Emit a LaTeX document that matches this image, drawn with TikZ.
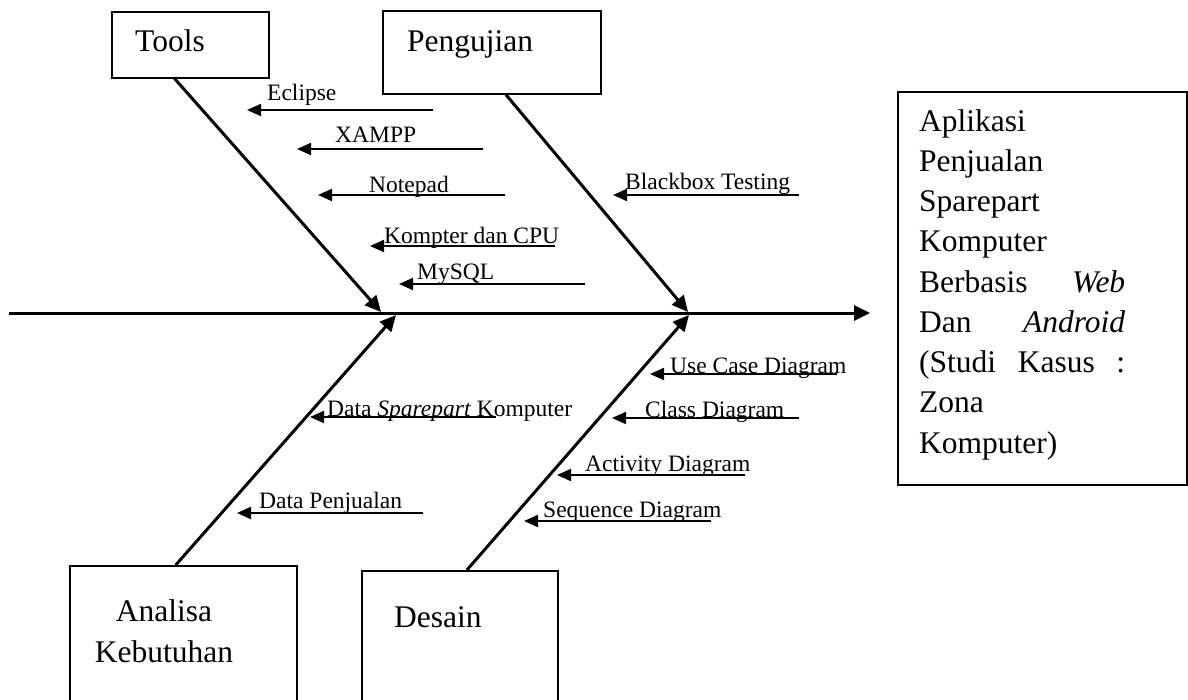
\documentclass[tikz,border=0pt]{standalone}
\usepackage{fontspec}
\setmainfont{Liberation Serif}
\usetikzlibrary{arrows.meta,calc}
\begin{document}
\begin{tikzpicture}[x=1pt,y=-1pt,
  box/.style={draw, line width=1.6pt, inner sep=0pt, anchor=north west},
  big/.style={font=\fontsize{31.5}{40.25}\selectfont, inner sep=0pt},
  lbl/.style={font=\fontsize{23.5}{28}\selectfont, inner sep=0pt, anchor=base west},
  bone/.style={line width=3pt, -{Triangle[length=16pt,width=15pt]}},
  sub/.style={line width=2pt, -{Triangle[length=14pt,width=12pt]}}]
\useasboundingbox (0,0) rectangle (1188,699);
\clip (0,0) rectangle (1188,699);
% boxes
\node[box, minimum width=157pt, minimum height=66pt] (tools) at (111,11) {};
\node[box, minimum width=218pt, minimum height=83pt] (uji) at (382,10) {};
\node[box, minimum width=227pt, minimum height=160pt] (ana) at (69,565) {};
\node[box, minimum width=196pt, minimum height=160pt] (des) at (361,570) {};
\node[box, minimum width=289pt, minimum height=393pt] (res) at (897,91) {};
% box texts
\node[big, anchor=base west] (ttools) at (135,51) {Tools};
\node[big, anchor=base west] (tuji) at (407,51) {Pengujian};
\node[big, anchor=base, align=center] (tana) at (164,662) {Analisa\\Kebutuhan};
\node[big, anchor=base west] (tdes) at (394,627) {Desain};
\node[big, anchor=base west, text width=206pt, align=left] (tres) at (919,131)
  {Aplikasi\\Penjualan\\Sparepart\\Komputer\\Berbasis\hfill\textit{Web}\\Dan\hfill\textit{Android}\\(Studi\hfill Kasus\hfill :\\Zona\\Komputer)};
% spine
\coordinate (sL) at (9,313);
\coordinate (sR) at (870,313);
\draw[bone] (sL) -- (sR);
% bones
\coordinate (jT) at (381,312);
\coordinate (jU) at (688,312);
\coordinate (jA) at (396,315);
\coordinate (jD) at (689,315);
\draw[bone] ($(tools.south west)!0.401!(tools.south east)$) -- (jT);
\draw[bone] ($(uji.south west)!0.564!(uji.south east)$) -- (jU);
\draw[bone] ($(ana.north west)!0.467!(ana.north east)$) -- (jA);
\draw[bone] ($(des.north west)!0.536!(des.north east)$) -- (jD);
% sub causes
\coordinate (a1) at (433,110); \coordinate (b1) at (247,110);
\draw[sub] (a1) -- (b1); \node[lbl] (l1) at (267,100) {Eclipse};
\coordinate (a2) at (483,149); \coordinate (b2) at (297,149);
\draw[sub] (a2) -- (b2); \node[lbl] (l2) at (335,142) {XAMPP};
\coordinate (a3) at (505,195); \coordinate (b3) at (318,195);
\draw[sub] (a3) -- (b3); \node[lbl] (l3) at (369,192) {Notepad};
\coordinate (a4) at (555,246); \coordinate (b4) at (370,246);
\draw[sub] (a4) -- (b4); \node[lbl] (l4) at (384,243) {Kompter dan CPU};
\coordinate (a5) at (585,284); \coordinate (b5) at (399,284);
\draw[sub] (a5) -- (b5); \node[lbl] (l5) at (417,279) {MySQL};
\coordinate (a6) at (799,195); \coordinate (b6) at (613,195);
\draw[sub] (a6) -- (b6); \node[lbl] (l6) at (625,189) {Blackbox Testing};
\coordinate (a7) at (837,374); \coordinate (b7) at (650,374);
\draw[sub] (a7) -- (b7); \node[lbl] (l7) at (670,373) {Use Case Diagram};
\coordinate (a8) at (799,418); \coordinate (b8) at (612,418);
\draw[sub] (a8) -- (b8); \node[lbl] (l8) at (645,417) {Class Diagram};
\coordinate (a9) at (745,475); \coordinate (b9) at (557,475);
\draw[sub] (a9) -- (b9); \node[lbl] (l9) at (585,471) {Activity Diagram};
\coordinate (a10) at (711,521); \coordinate (b10) at (524,521);
\draw[sub] (a10) -- (b10); \node[lbl] (l10) at (543,517) {Sequence Diagram};
\coordinate (a11) at (496,417); \coordinate (b11) at (310,417);
\draw[sub] (a11) -- (b11); \node[lbl] (l11) at (327,416) {Data \textit{Sparepart} Komputer};
\coordinate (a12) at (423,513); \coordinate (b12) at (237,513);
\draw[sub] (a12) -- (b12); \node[lbl] (l12) at (259,508) {Data Penjualan};
\end{tikzpicture}
\end{document}
